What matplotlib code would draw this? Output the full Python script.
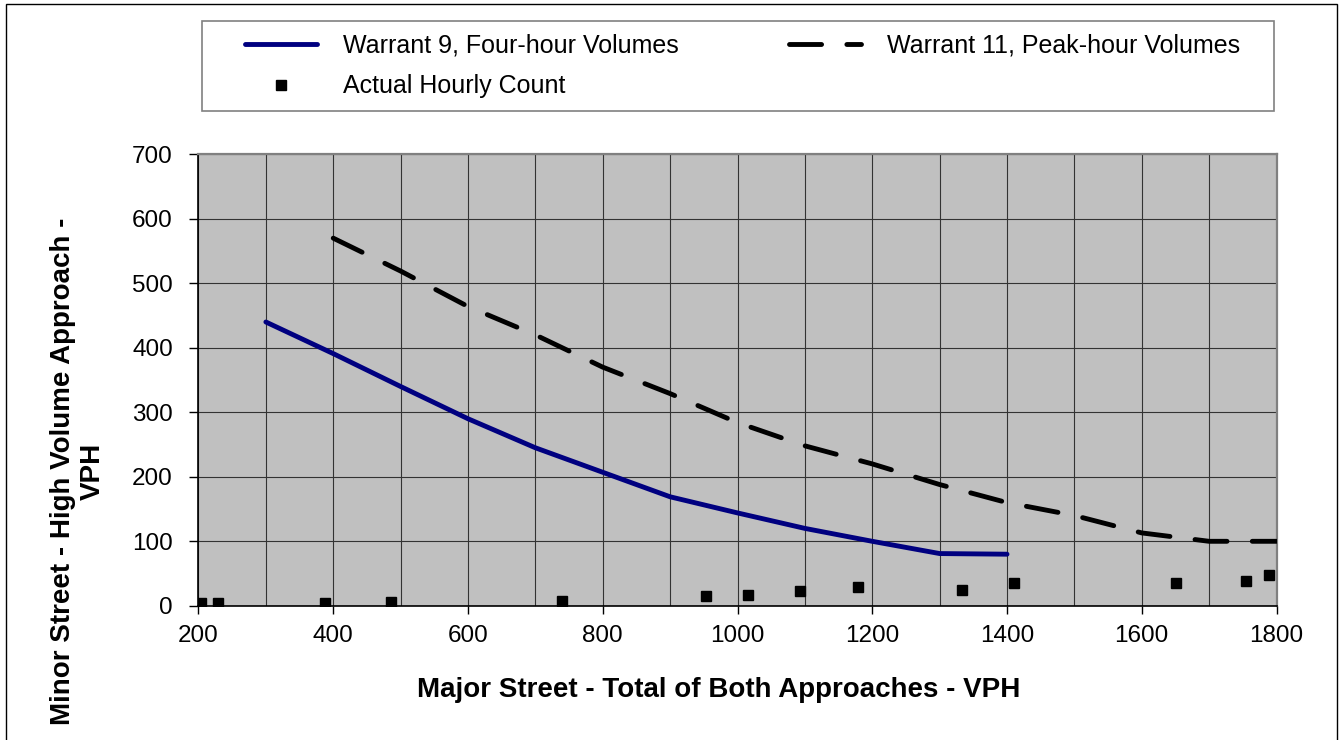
import numpy as np
import matplotlib.pyplot as plt
from matplotlib.patches import Rectangle

plt.rcParams['font.family'] = ['Liberation Sans', 'DejaVu Sans']

# Warrant 9 - four-hour volumes curve
w9_x = [300, 400, 500, 600, 700, 800, 900, 1000, 1100, 1200, 1300, 1400]
w9_y = [440, 391, 340, 290, 245, 207, 169, 144, 120, 100, 81, 80]

# Warrant 11 - peak-hour volumes curve
w11_x = [400, 500, 600, 700, 800, 900, 1000, 1100, 1200, 1300, 1400, 1500, 1600, 1700, 1800]
w11_y = [570, 519, 464, 420, 370, 329, 284, 248, 220, 188, 160, 140, 113, 100, 100]

# actual hourly counts
count_x = [203, 229, 388, 485, 740, 953, 1016, 1093, 1179, 1333, 1410, 1651, 1754, 1789]
count_y = [4, 4, 5, 6, 8, 15, 17, 23, 29, 24, 35, 35, 39, 48]

x_ticks = [200, 400, 600, 800, 1000, 1200, 1400, 1600, 1800]
x_grid = [300, 500, 700, 900, 1100, 1300, 1500, 1700]
y_ticks = [0, 100, 200, 300, 400, 500, 600, 700]

W, H = 1340, 740
fig = plt.figure(figsize=(W / 100, H / 100), dpi=100)
ax = fig.add_axes([198.5 / W, 1 - 605.8 / H, 1078 / W, 451.5 / H])
ax.set_facecolor('#c0c0c0')

l9, = ax.plot(w9_x, w9_y, color='#000080', lw=3.5, solid_capstyle='round',
              label='Warrant 9, Four-hour Volumes', zorder=3)
l11, = ax.plot(w11_x, w11_y, color='black', lw=3.5, linestyle=(0, (6.6, 5.2)),
               dash_capstyle='round', label='Warrant 11, Peak-hour Volumes', zorder=3)
pts, = ax.plot(count_x, count_y, linestyle='none', marker='s', ms=6.7,
               color='black', label='Actual Hourly Count', zorder=4)

ax.set_xlim(200, 1800)
ax.set_ylim(0, 700)
ax.set_xticks(x_ticks)
ax.set_xticks(x_grid, minor=True)
ax.set_yticks(y_ticks)
ax.grid(True, which='both', color='#333333', lw=0.8)
ax.set_axisbelow(True)
ax.tick_params(axis='x', which='major', direction='out', length=6, width=1, pad=7.5, labelsize=17.5)
ax.tick_params(axis='x', which='minor', length=0)
ax.tick_params(axis='y', direction='out', length=6.5, width=1, pad=12, labelsize=17.5)

for side in ['left', 'bottom']:
    ax.spines[side].set_color('black')
    ax.spines[side].set_linewidth(1.2)
for side in ['top', 'right']:
    ax.spines[side].set_color('#808080')
    ax.spines[side].set_linewidth(1.6)

ax.set_xlabel('Major Street - Total of Both Approaches - VPH', fontsize=20,
              fontweight='bold', va='baseline')
ax.xaxis.set_label_coords(0.4828, -0.2013)
ax.set_ylabel('Minor Street - High Volume Approach -\nVPH', fontsize=20,
              fontweight='bold', va='center', ha='center', linespacing=1.15)
ax.yaxis.set_label_coords(-0.1118, 0.298)

# legend box and entries
fig.add_artist(Rectangle((202 / W, 1 - 111 / H), 1072 / W, 90 / H, transform=fig.transFigure,
                         facecolor='white', edgecolor='#808080', lw=1.2))
fig.legend([l9, pts, l11],
           ['Warrant 9, Four-hour Volumes', 'Actual Hourly Count', 'Warrant 11, Peak-hour Volumes'],
           ncol=2, mode='expand', loc='center', frameon=False, borderpad=0, borderaxespad=0,
           bbox_to_anchor=(245 / W, 1 - 111 / H, (1240 - 245) / W, 90 / H),
           handlelength=2.88, handletextpad=1.05, labelspacing=0.68, fontsize=18)

# outer chart border
fig.add_artist(Rectangle((6 / W, -0.01), (1337 - 6) / W, 1 - 4 / H + 0.01,
                         transform=fig.transFigure, fill=False, edgecolor='black', lw=1))

fig.savefig('out.png', dpi=100)
